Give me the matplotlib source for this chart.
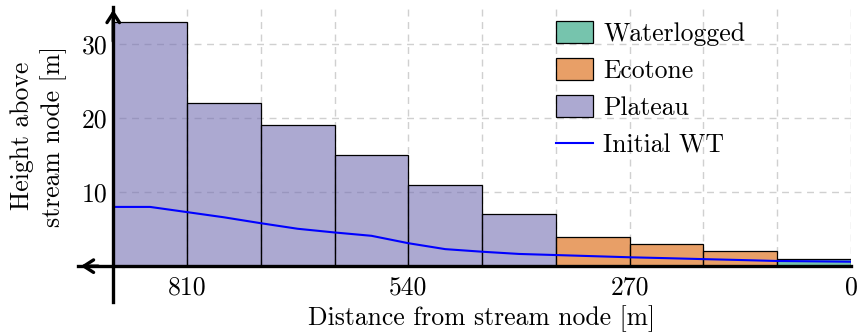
import numpy as np
import matplotlib
matplotlib.use("Agg")
import matplotlib.pyplot as plt
from matplotlib.patches import Patch
from matplotlib.lines import Line2D

plt.rcParams['font.family'] = 'serif'
plt.rcParams['font.serif'] = ['cmr10']
plt.rcParams['mathtext.fontset'] = 'cm'
plt.rcParams['axes.formatter.use_mathtext'] = True

# bar centres [m from stream node] and heights [m]
plateau_x = [855, 765, 675, 585, 495, 405]
plateau_h = [33, 22, 19, 15, 11, 7]
ecotone_x = [315, 225, 135]
ecotone_h = [4, 3, 2]
waterlogged_x = [45]
waterlogged_h = [1]
bar_width = 90

# initial water table
wt_x = [900, 855, 810, 765, 720, 675, 630, 585, 540, 495, 450, 405, 360, 315, 270, 225, 180, 135, 90, 45, 0]
wt_y = [8.0, 8.0, 7.3, 6.6, 5.8, 5.05, 4.55, 4.1, 3.1, 2.3, 1.95, 1.65, 1.5, 1.35, 1.2, 1.08, 0.95, 0.83, 0.7, 0.65, 0.6]

xticks = [810, 540, 270, 0]
yticks = [10, 20, 30]

c_water = (27/255, 158/255, 119/255, 0.6)
c_eco = (217/255, 95/255, 2/255, 0.6)
c_plat = (117/255, 112/255, 179/255, 0.6)

fs = 18.5

fig = plt.figure(figsize=(8.58, 3.35), dpi=100)
ax = fig.add_axes([0.0909, 0.0994, 0.9009, 0.8797])
ax.set_xlim(943, 0)
ax.set_ylim(-4.8, 35)

# grid, only inside the data region
for gx in range(0, 901, 90):
    ax.plot([gx, gx], [0, 35], color='#d0d0d0', lw=1.0, ls=(0, (5, 4)), zorder=0)
for gy in yticks:
    ax.plot([0, 900], [gy, gy], color='#d0d0d0', lw=1.0, ls=(0, (5, 4)), zorder=0)

ax.bar(plateau_x, plateau_h, width=bar_width, facecolor=c_plat, edgecolor='black', lw=0.9, zorder=2)
ax.bar(ecotone_x, ecotone_h, width=bar_width, facecolor=c_eco, edgecolor='black', lw=0.9, zorder=2)
ax.bar(waterlogged_x, waterlogged_h, width=bar_width, facecolor=c_water, edgecolor='black', lw=0.9, zorder=2)
ax.plot(wt_x, wt_y, color='blue', lw=1.5, zorder=3)

# axis lines through the origin, pgfplots style
for s in ['top', 'right']:
    ax.spines[s].set_visible(False)
ax.spines['left'].set_position(('data', 900))
ax.spines['bottom'].set_position(('data', 0))
for s in ['left', 'bottom']:
    ax.spines[s].set_linewidth(2.4)
    ax.spines[s].set_zorder(4)
arrow = dict(arrowstyle='->,head_length=0.7,head_width=0.45', lw=2.4, color='black')
ax.annotate('', xy=(943, 0), xytext=(915, 0), arrowprops=arrow, annotation_clip=False, zorder=5)
ax.annotate('', xy=(900, 35), xytext=(900, 30), arrowprops=arrow, annotation_clip=False, zorder=5)

ax.set_xticks(xticks)
ax.set_xticklabels([str(v) for v in xticks])
ax.set_yticks(yticks)
ax.set_yticklabels([str(v) for v in yticks])
ax.tick_params(length=0, labelsize=fs, pad=7)
ax.tick_params(axis='y', pad=4)

ax.set_xlabel('Distance from stream node [m]', fontsize=fs)
ax.xaxis.set_label_coords(0.5226, -0.012, transform=ax.transAxes)
ax.xaxis.label.set_va('top')
ax.set_ylabel('Height above\nstream node [m]', fontsize=fs, linespacing=1.3)
ax.yaxis.set_label_coords(-0.051, 0.562, transform=ax.transAxes)
ax.yaxis.label.set_va('center')

handles = [Patch(facecolor=c_water, edgecolor='black', lw=0.9),
           Patch(facecolor=c_eco, edgecolor='black', lw=0.9),
           Patch(facecolor=c_plat, edgecolor='black', lw=0.9),
           Line2D([], [], color='blue', lw=1.5)]
labels = ['Waterlogged', 'Ecotone', 'Plateau', 'Initial WT']
ax.legend(handles, labels, loc='upper left', bbox_to_anchor=(0.605, 0.988), frameon=False,
          fontsize=fs, handlelength=1.45, handleheight=0.95, labelspacing=0.48, handletextpad=0.4,
          borderaxespad=0.0)

fig.savefig('out.png', dpi=100)
